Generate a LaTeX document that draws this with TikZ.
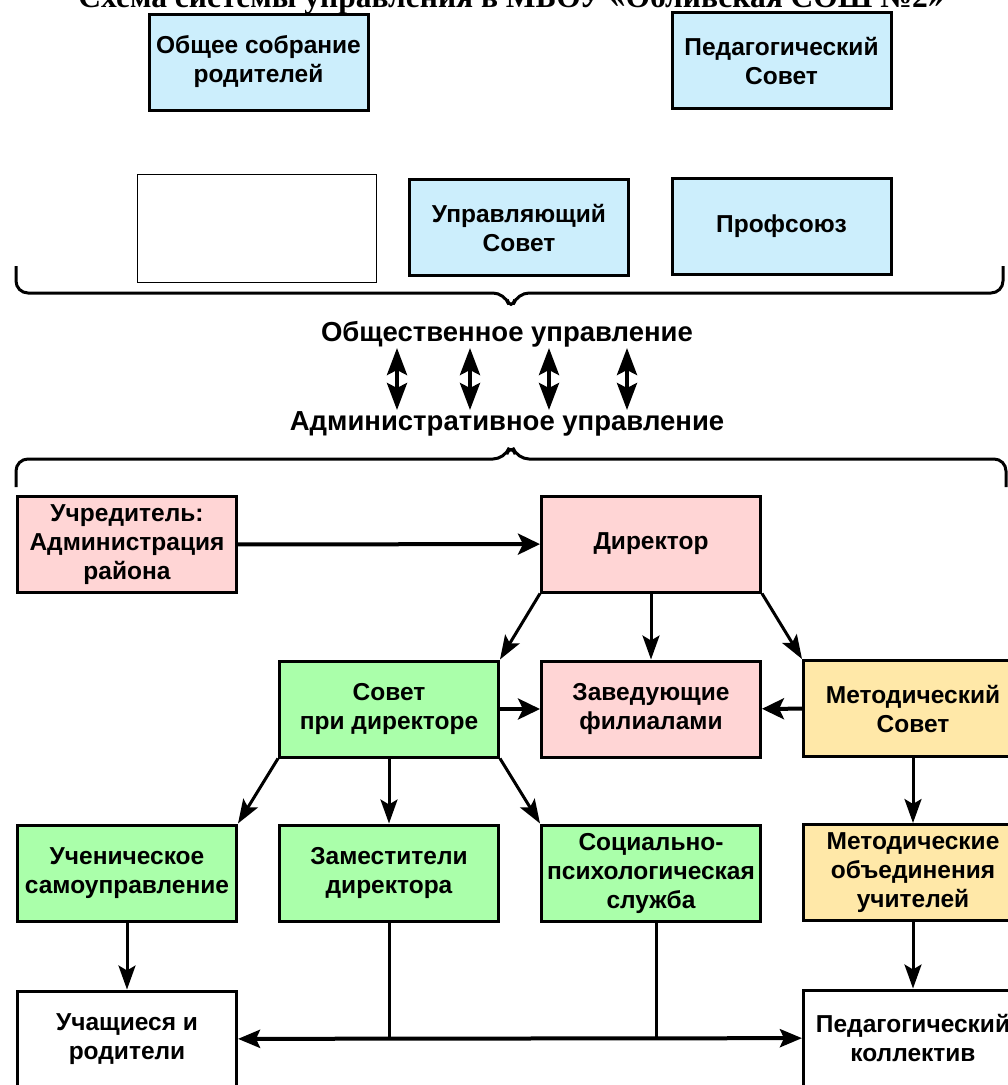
\documentclass[tikz,border=0pt]{standalone}
\usepackage{fontspec}
\setmainfont{Liberation Sans}
\newfontfamily\boxfont{Liberation Sans}
\newfontfamily\titlefont{Liberation Serif}
\usetikzlibrary{arrows.meta}
\definecolor{cblue}{RGB}{204,238,252}
\definecolor{cpink}{RGB}{255,213,213}
\definecolor{cgreen}{RGB}{170,255,170}
\definecolor{cyel}{RGB}{255,232,168}
\tikzset{
  box/.style={draw, line width=3pt, inner sep=0pt, align=center,
    font=\boxfont\bfseries\fontsize{24.5}{29}\selectfont,
    minimum width=219pt, minimum height=96pt},
  bluebox/.style={box, fill=cblue},
  pinkbox/.style={box, fill=cpink},
  greenbox/.style={box, fill=cgreen},
  yelbox/.style={box, fill=cyel},
  whitebox/.style={box, fill=white},
  midlabel/.style={font=\bfseries\fontsize{27.5}{30}\selectfont, inner sep=0pt},
  thin/.style={line width=3pt, -{Stealth[length=24pt,width=17pt,inset=5pt]}},
  thick/.style={line width=4pt, -{Stealth[length=22pt,width=21pt,inset=5pt]}},
  dbl/.style={line width=4pt, {Stealth[length=22pt,width=18pt,inset=4pt]}-{Stealth[length=22pt,width=18pt,inset=4pt]}},
  dblbig/.style={line width=4pt, {Stealth[length=27pt,width=20pt,inset=5pt]}-{Stealth[length=27pt,width=20pt,inset=5pt]}},
  brace/.style={line width=3pt, rounded corners=12pt}
}
\begin{document}
\begin{tikzpicture}[x=1pt,y=-1pt]
\useasboundingbox[fill=white] (0,0) rectangle (1008,1085);
\node[anchor=base, font=\titlefont\bfseries\fontsize{31.5}{31.5}\selectfont, inner sep=0pt] (title) at (511,7.5) {Схема системы управления в МБОУ «Обливская СОШ №2»};

% public management
\node[bluebox] (A) at (258.5,62) {Общее собрание\\родителей};
\node[bluebox] (B) at (781.5,60.5) {Педагогический\\Совет};
\node[box, line width=1.2pt, fill=white, minimum width=239pt, minimum height=108pt] (C) at (257,228.5) {};
\node[bluebox] (D) at (519,227.5) {Управляющий\\Совет};
\node[bluebox] (E) at (781.5,226) {Профсоюз};

\draw[brace] (16,266) -- (16,293) -- (505,293) -- (511,311) -- (517,293) -- (1003,293) -- (1003,266);

\node[midlabel] (pub) at (507,334) {Общественное управление};
\node[midlabel] (adm) at (507,424) {Административное управление};
\foreach \x/\n in {397/1,470/2,549/3,627/4}{
  \coordinate (u\n) at (\x,348);
  \coordinate (d\n) at (\x,410);
  \draw[dblbig] (u\n) -- (d\n);
}

\draw[brace] (16,487) -- (16,459) -- (505,459) -- (511,443) -- (517,459) -- (1006,459) -- (1006,487);

% administrative
\node[pinkbox] (F) at (127,544.5) {Учредитель:\\Администрация\\района};
\node[pinkbox] (G) at (651,544) {Директор};
\node[greenbox] (H) at (389,709) {Совет\\при директоре};
\node[pinkbox] (I) at (651,709) {Заведующие\\филиалами};
\node[yelbox] (J) at (913,708.5) {Методический\\Совет};
\node[greenbox] (K) at (127,873) {Ученическое\\самоуправление};
\node[greenbox] (L) at (389,873) {Заместители\\директора};
\node[greenbox] (M) at (651,873) {Социально-\\психологическая\\служба};
\node[yelbox] (N) at (913,872.5) {Методические\\объединения\\учителей};
\node[whitebox] (O) at (127,1039) {Учащиеся и\\родители};
\node[whitebox] (P) at (913,1038) {Педагогический\\коллектив};

\draw[thick] (F) -- (G);
\draw[thin] (G.south west) -- (H.north east);
\draw[thin] (G) -- (I);
\draw[thin] (G.south east) -- (J.north west);
\draw[thick] (H) -- (I);
\draw[thick] (J) -- (I);
\draw[thin] (H.south west) -- (K.north east);
\draw[thin] (H) -- (L);
\draw[thin] (H.south east) -- (M.north west);
\draw[thin] (J) -- (N);
\draw[thin] (K) -- (O);
\draw[thin] (N) -- (P);
\draw[dbl] (O) -- (P);
\coordinate (jl) at (L.south |- O.east);
\coordinate (jm) at ([xshift=5pt]M.south |- O.east);
\draw[line width=3pt] (L.south) -- (jl);
\draw[line width=3pt] ([xshift=5pt]M.south) -- (jm);
\end{tikzpicture}
\end{document}
